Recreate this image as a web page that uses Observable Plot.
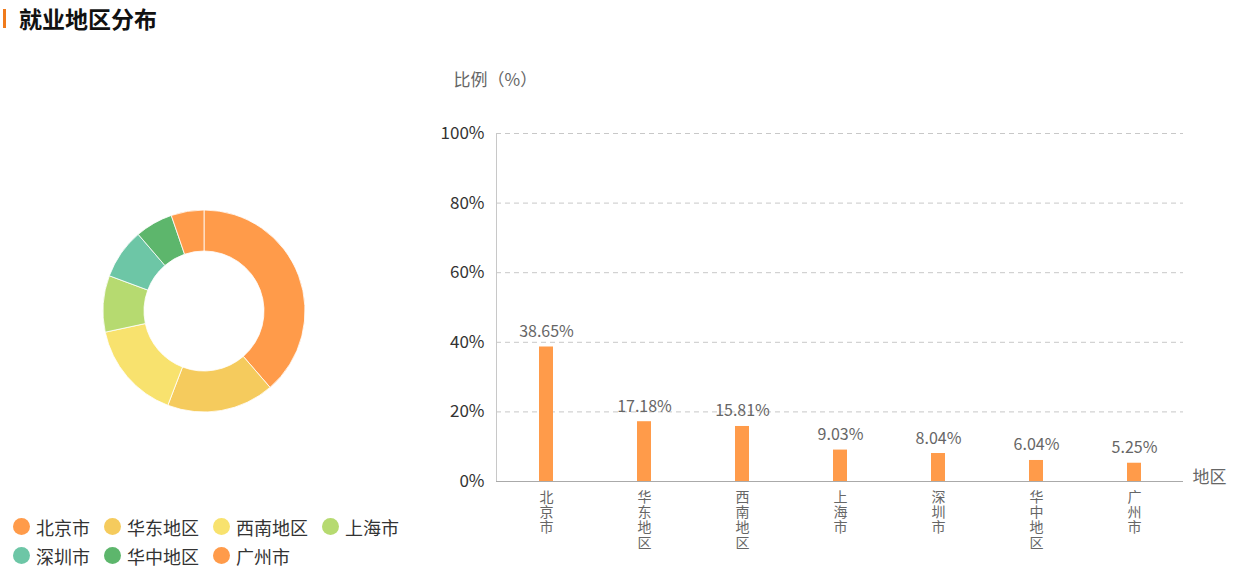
<!DOCTYPE html>
<html>
<head>
<meta charset="utf-8">
<script src="https://cdn.jsdelivr.net/npm/d3@7"></script>
<script src="https://cdn.jsdelivr.net/npm/@observablehq/plot@0.6"></script>
<style>
  html, body { margin: 0; padding: 0; background: #fff; }
  body { width: 1242px; height: 575px; position: relative; overflow: hidden;
         font-family: "Noto Sans CJK SC", "Noto Sans", sans-serif; }
  #title { position: absolute; left: 3px; top: 5px; height: 26px; display: flex; align-items: center;
           font-size: 23px; font-weight: bold; color: #111; }
  #title .bar { width: 3px; height: 19px; background: #F07B1C; margin-right: 13px; }
  #pie { position: absolute; left: 0; top: 0; }
  #bars { position: absolute; left: 0; top: 0; }
  #legend { position: absolute; left: 13px; top: 512px; width: 410px; font-size: 18px; color: #333; }
  .row { display: flex; height: 29px; align-items: center; }
  .item { display: flex; align-items: center; margin-right: 14px; }
  .dot { width: 17px; height: 17px; border-radius: 50%; margin-right: 6px; }
</style>
</head>
<body>
<div id="title"><div class="bar"></div>就业地区分布</div>
<div id="pie"></div>
<div id="bars"></div>
<div id="legend"></div>
<script>
const categories = ["北京市", "华东地区", "西南地区", "上海市", "深圳市", "华中地区", "广州市"];
const values = [38.65, 17.18, 15.81, 9.03, 8.04, 6.04, 5.25];
const colors = ["#FF9B4A", "#F5CB5D", "#F8E26E", "#B6DA70", "#6DC6A6", "#5DB66C", "#FF9B4A"];
const barColor = "#FF9B4A";
const yTicks = [0, 20, 40, 60, 80, 100];
const legendRows = [["北京市", "华东地区", "西南地区", "上海市"], ["深圳市", "华中地区", "广州市"]];

const data = categories.map((c, i) => ({category: c, value: values[i]}));
const color = Plot.scale({color: {type: "ordinal", domain: categories, range: colors}});

// Donut
const pieGen = d3.pie().value(d => d.value).sort(null);
const arcGen = d3.arc().innerRadius(60).outerRadius(101);
const donut = Plot.plot({
  width: 410, height: 500, margin: 0,
  style: {background: "transparent"},
  marks: [
    () => {
      const g = d3.create("svg:g").attr("transform", "translate(204,311)");
      g.selectAll("path").data(pieGen(data)).join("path")
        .attr("d", arcGen)
        .attr("fill", d => color.apply(d.data.category))
        .attr("stroke", "#fff").attr("stroke-width", 0.8);
      return g.node();
    }
  ]
});
document.getElementById("pie").append(donut);

// Bars
const bars = Plot.plot({
  width: 1242, height: 575,
  marginLeft: 496, marginRight: 59, marginTop: 133, marginBottom: 94,
  style: {background: "transparent", fontFamily: "Noto Sans CJK SC, sans-serif"},
  x: {domain: categories, padding: 0, label: null},
  y: {domain: [0, 100], label: null},
  marks: [
    Plot.gridY(yTicks.filter(d => d > 0), {stroke: "#c8c8c8", strokeOpacity: 1, strokeDasharray: "5,4"}),
    Plot.frame({anchor: "left", stroke: "#c8c8c8"}),
    Plot.axisY(yTicks, {tickSize: 0, tickPadding: 12, fontSize: 17, fill: "#333", tickFormat: d => d + "%"}),
    Plot.barY(data, {x: "category", y: "value", fill: barColor, insetLeft: 42, insetRight: 42}),
    Plot.ruleY([0], {stroke: "#aaa"}),
    Plot.axisX({tickSize: 0, tickPadding: 10, fontSize: 14, fill: "#666", lineHeight: 1.08,
                tickFormat: d => d.split("").join("\n")}),
    Plot.text(data, {x: "category", y: "value", text: d => d.value.toFixed(2) + "%",
                     lineAnchor: "bottom", dy: -10, fontSize: 16, fill: "#666"}),
    Plot.text(["比例（%）"], {frameAnchor: "top-left", dx: -43, dy: -60, fontSize: 17, fill: "#666", textAnchor: "start"}),
    Plot.text(["地区"], {frameAnchor: "bottom-right", dx: 9, dy: 1, fontSize: 17, fill: "#666", textAnchor: "start"})
  ]
});
document.getElementById("bars").append(bars);

// Legend
const legend = document.getElementById("legend");
legendRows.forEach(row => {
  const r = document.createElement("div");
  r.className = "row";
  row.forEach(c => {
    const it = document.createElement("div");
    it.className = "item";
    const dot = document.createElement("div");
    dot.className = "dot";
    dot.style.background = color.apply(c);
    it.append(dot, document.createTextNode(c));
    r.append(it);
  });
  legend.append(r);
});
</script>
</body>
</html>
